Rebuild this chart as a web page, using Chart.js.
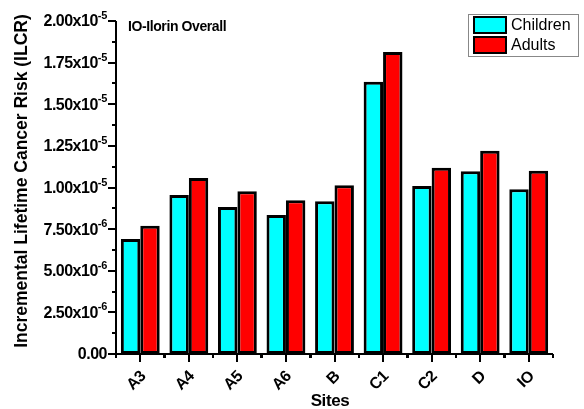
<!DOCTYPE html>
<html>
<head>
<meta charset="utf-8">
<script src="https://cdn.jsdelivr.net/npm/chart.js@4.4.0/dist/chart.umd.min.js"></script>
<style>
  body { margin: 0; background: #fff; }
  canvas { display: block; }
</style>
</head>
<body>
<canvas id="ilcr-chart" width="584" height="409"></canvas>
<script>
// Data
const sites = ["A3", "A4", "A5", "A6", "B", "C1", "C2", "D", "IO"];
const children = [6.9e-6, 9.55e-6, 8.83e-6, 8.35e-6, 9.17e-6, 16.35e-6, 10.09e-6, 10.98e-6, 9.89e-6];
const adults = [7.7e-6, 10.57e-6, 9.77e-6, 9.23e-6, 10.14e-6, 18.14e-6, 11.18e-6, 12.2e-6, 11.0e-6];

// y tick labels (mantissa + superscript exponent)
const yTickValues = [0, 2.5e-6, 5e-6, 7.5e-6, 1e-5, 1.25e-5, 1.5e-5, 1.75e-5, 2e-5];
const yTickText = ["0.00", "2.50x10", "5.00x10", "7.50x10", "1.00x10", "1.25x10", "1.50x10", "1.75x10", "2.00x10"];
const yTickExp = ["", "-6", "-6", "-6", "-5", "-5", "-5", "-5", "-5"];

const FONT = "'Liberation Sans', Arial, sans-serif";

// Origin-style axes, labels, title and legend
const axesPlugin = {
  id: "originAxes",
  afterDraw(chart) {
    const ctx = chart.ctx;
    const area = chart.chartArea;
    const x = chart.scales.x;
    const y = chart.scales.y;
    ctx.save();
    ctx.strokeStyle = "#000";
    ctx.fillStyle = "#000";

    // axis lines
    ctx.lineWidth = 2;
    ctx.beginPath();
    ctx.moveTo(area.left, y.getPixelForValue(yTickValues[yTickValues.length - 1]));
    ctx.lineTo(area.left, area.bottom);
    ctx.lineTo(area.right, area.bottom);
    ctx.stroke();

    // y ticks (major + minor)
    yTickValues.forEach((v, i) => {
      const py = Math.round(y.getPixelForValue(v));
      ctx.beginPath();
      ctx.moveTo(area.left - 8, py);
      ctx.lineTo(area.left, py);
      ctx.stroke();
      if (i < yTickValues.length - 1) {
        const pm = Math.round(y.getPixelForValue((v + yTickValues[i + 1]) / 2));
        ctx.beginPath();
        ctx.moveTo(area.left - 4, pm);
        ctx.lineTo(area.left, pm);
        ctx.stroke();
      }
    });

    // x ticks: major at centres, minor at boundaries
    const half = (x.getPixelForValue(1) - x.getPixelForValue(0)) / 2;
    sites.forEach((s, i) => {
      const px = Math.round(x.getPixelForValue(i));
      ctx.beginPath();
      ctx.moveTo(px, area.bottom);
      ctx.lineTo(px, area.bottom + 8);
      ctx.stroke();
      [px - half, px + half].forEach((bx) => {
        ctx.beginPath();
        ctx.moveTo(Math.round(bx), area.bottom);
        ctx.lineTo(Math.round(bx), area.bottom + 4);
        ctx.stroke();
      });
    });

    // y tick labels
    ctx.textBaseline = "middle";
    yTickValues.forEach((v, i) => {
      const py = y.getPixelForValue(v);
      let right = area.left - 9;
      ctx.textAlign = "right";
      if (yTickExp[i]) {
        ctx.font = "bold 11px " + FONT;
        ctx.letterSpacing = "-0.3px";
        ctx.fillText(yTickExp[i], right, py - 5);
        right -= ctx.measureText(yTickExp[i]).width;
      }
      ctx.font = "bold 16px " + FONT;
      ctx.letterSpacing = "-0.5px";
      ctx.fillText(yTickText[i], right, py + 1);
      ctx.letterSpacing = "0px";
    });

    // x tick labels, rotated 45 degrees
    ctx.font = "bold 16px " + FONT;
    ctx.letterSpacing = "-0.5px";
    sites.forEach((s, i) => {
      const px = x.getPixelForValue(i);
      ctx.save();
      ctx.translate(px + 3, area.bottom + 20);
      ctx.rotate(-Math.PI / 4);
      ctx.textAlign = "right";
      ctx.textBaseline = "middle";
      ctx.fillText(s, 0, 0);
      ctx.restore();
    });
    ctx.letterSpacing = "0px";

    // axis titles
    ctx.font = "bold 17px " + FONT;
    ctx.letterSpacing = "-0.4px";
    ctx.textAlign = "center";
    ctx.textBaseline = "middle";
    ctx.fillText("Sites", 330, 401);
    ctx.save();
    ctx.translate(22, 181);
    ctx.rotate(-Math.PI / 2);
    ctx.font = "bold 17.5px " + FONT;
    ctx.letterSpacing = "0px";
    ctx.fillText("Incremental Lifetime Cancer Risk (ILCR)", 0, 0);
    ctx.restore();

    // panel title
    ctx.font = "bold 14px " + FONT;
    ctx.letterSpacing = "-0.4px";
    ctx.textAlign = "left";
    ctx.fillText("IO-Ilorin Overall", 128, 27);
    ctx.letterSpacing = "0px";

    // legend
    ctx.lineWidth = 1;
    ctx.strokeStyle = "#888";
    ctx.strokeRect(468.5, 14.5, 110, 42);
    ctx.font = "16px " + FONT;
    chart.data.datasets.forEach((ds, i) => {
      const top = 16 + i * 20;
      ctx.fillStyle = ds.backgroundColor;
      ctx.fillRect(473, top, 34, 18);
      ctx.strokeStyle = "#000";
      ctx.lineWidth = 2;
      ctx.strokeRect(474, top + 1, 32, 16);
      ctx.fillStyle = "#000";
      ctx.fillText(ds.label, 511, top + 10);
    });

    ctx.restore();
  },
};

const ctx = document.getElementById("ilcr-chart").getContext("2d");
new Chart(ctx, {
  type: "bar",
  data: {
    labels: sites,
    datasets: [
      {
        label: "Children",
        data: children,
        backgroundColor: "#00ffff",
        borderColor: "#000",
        borderWidth: 3,
        borderSkipped: false,
        categoryPercentage: 0.8,
        barPercentage: 1.0,
      },
      {
        label: "Adults",
        data: adults,
        backgroundColor: "#ff0000",
        borderColor: "#000",
        borderWidth: 3,
        borderSkipped: false,
        categoryPercentage: 0.8,
        barPercentage: 1.0,
      },
    ],
  },
  options: {
    responsive: false,
    animation: false,
    layout: { padding: { left: 0, right: 31, top: 21, bottom: 0 } },
    plugins: {
      legend: { display: false },
      tooltip: { enabled: false },
    },
    scales: {
      x: {
        grid: { display: false },
        border: { display: false },
        ticks: { display: false },
        afterFit: (scale) => { scale.height = 55; },
      },
      y: {
        min: 0,
        max: 2e-5,
        grid: { display: false },
        border: { display: false },
        ticks: { display: false, stepSize: 2.5e-6 },
        afterFit: (scale) => { scale.width = 116; },
      },
    },
  },
  plugins: [axesPlugin],
});
</script>
</body>
</html>
